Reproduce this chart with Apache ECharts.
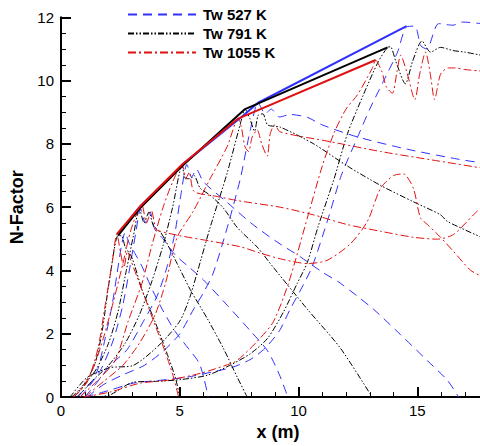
<!DOCTYPE html>
<html><head><meta charset="utf-8">
<script src="https://cdn.jsdelivr.net/npm/echarts@6/dist/echarts.min.js"></script>
<style>html,body{margin:0;padding:0;background:#fff;overflow:hidden}#c{width:536px;height:446px}</style>
</head><body><div id="c"></div>
<script>
// ---- data (x in m, N-factor) ----
const legendNames = ['Tw 527 K', 'Tw 791 K', 'Tw 1055 K'];

const blueEnv = [[2.4,5.15],[3.3,6.0],[5.2,7.4],[7.6,8.85],[8.3,9.3],[14.55,11.72]];
const blackEnv = [[2.4,5.1],[3.3,5.95],[5.1,7.3],[7.75,9.1],[13.75,11.05]];
const redEnv = [[2.35,5.15],[3.4,6.08],[5.1,7.35],[7.46,8.8],[13.25,10.65]];

const blueA = [[0.65,0],[1.0,0.25],[1.3,0.5],[1.56,0.9],[1.86,1.86],[2.15,2.9],[2.36,3.9],[2.55,4.8],[2.7,5.2],[2.85,4.9],[3.12,4.53],[3.41,4.13],[3.84,3.4],[4.26,2.78],[4.81,2.07],[5.35,1.55],[5.8,1.1],[6.0,0.65],[6.2,0]];
const blueB = [[0.8,0],[1.2,0.35],[1.7,0.9],[2.2,1.8],[2.6,2.9],[2.9,4.1],[3.15,5.2],[3.35,5.95],[3.55,5.5],[3.75,5.85],[3.95,5.3],[4.3,5.0],[4.8,4.5],[5.4,4.1],[6.0,3.7],[7.0,2.9],[8.0,2.07],[8.7,1.46],[9.2,0.7],[9.55,0]];
const blueC = [[1.0,0],[1.5,0.45],[2.07,1.0],[2.78,1.5],[3.46,2.38],[4.05,3.2],[4.47,4.13],[4.8,5.2],[5.05,6.4],[5.3,7.35],[5.5,6.95],[5.7,7.2],[6.0,6.8],[7.0,6.15],[8.0,5.5],[9.0,4.95],[10.08,4.43],[11.0,3.95],[11.76,3.6],[13.15,2.78],[14.3,1.97],[15.43,1.15],[16.27,0.53],[16.74,0]];
const blueD = [[1.1,0],[1.8,0.4],[2.6,0.7],[3.5,1.0],[4.3,1.45],[5.0,2.0],[5.6,2.8],[6.0,3.3],[6.41,3.92],[7.0,5.36],[7.55,6.9],[7.97,8.44],[8.3,9.3],[8.6,8.95],[8.85,9.1],[9.2,8.85],[9.65,8.93],[10.37,8.84],[11.0,8.6],[12.48,8.22],[14.59,7.83],[16.7,7.52],[17.7,7.4]];
const blueE = [[1.0,0],[2.07,0.22],[3.04,0.44],[4.17,0.53],[5.31,0.63],[6.41,0.8],[7.25,0.95],[8.0,1.2],[8.6,1.55],[9.2,2.1],[9.65,2.78],[10.1,3.4],[10.58,4.13],[11.26,5.67],[11.8,7.0],[12.48,8.2],[13.0,9.1],[13.57,9.97],[14.17,10.9],[14.55,11.7],[14.9,11.72],[15.15,11.1],[15.4,11.0],[15.9,11.8],[16.5,11.75],[16.9,11.85],[17.7,11.8]];

const blackA = [[0.45,0],[1.0,0.44],[1.43,1.06],[1.73,2.07],[1.98,3.4],[2.28,4.83],[2.4,5.1],[2.55,5.1],[2.7,4.75],[2.99,4.4],[3.41,3.4],[3.96,2.38],[4.38,1.55],[4.81,0.63],[5.0,0]];
const blackB = [[0.55,0],[1.0,0.4],[1.5,0.9],[2.0,1.7],[2.4,2.7],[2.75,4.0],[3.05,5.1],[3.3,5.95],[3.5,5.5],[3.7,5.85],[3.9,5.4],[4.2,5.2],[4.5,4.8],[4.89,4.22],[5.44,3.4],[6.16,2.48],[6.83,1.55],[7.42,0.63],[7.84,0]];
const blackC = [[0.7,0],[1.3,0.5],[2.0,1.0],[2.7,1.7],[3.3,2.6],[3.8,3.6],[4.3,4.8],[4.7,6.0],[5.1,7.3],[5.25,6.9],[5.44,6.9],[5.6,7.0],[5.86,6.6],[6.28,6.38],[6.83,5.98],[7.42,5.36],[8.26,4.74],[8.94,4.1],[10.37,2.78],[11.76,1.55],[13.1,0]];
const blackD = [[0.38,0],[1.1,0.62],[2.07,0.93],[3.04,1.0],[4.17,1.67],[5.0,2.4],[5.4,3.1],[5.73,3.92],[6.28,5.36],[7.0,7.09],[7.55,8.63],[7.75,9.1],[7.95,8.8],[8.15,8.4],[8.3,8.9],[8.5,8.95],[8.7,8.6],[9.23,8.53],[10.62,8.01],[12.06,7.3],[13.45,6.69],[14.84,6.17],[15.98,5.76],[16.27,5.55],[17.7,5.05]];
const blackE = [[1.5,0],[2.07,0.07],[3.04,0.47],[4.05,0.5],[5.0,0.55],[6.16,0.69],[7.1,1.0],[7.97,1.37],[8.7,1.86],[9.36,2.68],[9.95,3.6],[10.37,4.25],[10.83,5.4],[11.5,6.9],[12.06,8.32],[12.73,9.55],[13.36,10.6],[13.75,11.05],[13.87,11.07],[14.1,10.6],[14.5,9.9],[14.8,10.6],[15.2,11.25],[15.56,10.9],[15.98,11.05],[16.5,10.95],[17.0,10.9],[17.7,10.8]];

const redA = [[0.5,0],[0.75,0.15],[1.14,0.53],[1.56,1.55],[1.86,2.9],[2.15,4.22],[2.35,5.15],[2.5,4.6],[2.65,4.1],[2.8,4.6],[2.95,4.3],[3.2,3.8],[3.6,3.0],[4.0,2.2],[4.4,1.4],[4.75,0.6],[4.95,0]];
const redB = [[0.55,0],[1.0,0.4],[1.4,1.0],[1.8,1.9],[2.2,3.0],[2.6,4.2],[2.95,5.3],[3.4,6.08],[3.6,5.5],[3.8,5.9],[4.0,5.3],[4.17,5.24],[5.0,5.1],[6.28,4.93],[7.55,4.75],[8.39,4.55],[9.23,4.37],[10.37,4.22],[11.2,4.32],[12.18,4.84],[12.9,5.55],[13.45,6.59],[14.0,7.0],[14.42,7.05],[14.84,6.59],[15.13,5.67],[15.43,5.45],[15.98,5.05],[16.53,4.6],[17.24,4.01],[17.7,3.82]];
const redC = [[0.8,0],[1.5,0.5],[2.28,1.15],[2.82,2.38],[3.41,3.6],[3.84,4.83],[4.3,6.0],[4.7,6.8],[5.1,7.35],[5.25,6.9],[5.4,7.1],[5.6,6.5],[6.5,6.35],[7.5,6.2],[9.23,6.0],[10.62,5.76],[12.06,5.45],[13.45,5.24],[14.84,5.05],[15.85,4.99],[16.53,5.14],[17.37,5.76],[17.7,6.0]];
const redD = [[1.0,0],[1.8,0.5],[2.6,1.0],[3.3,1.7],[3.96,2.6],[4.4,3.6],[4.89,5.05],[5.56,5.86],[6.28,6.9],[7.0,7.92],[7.46,8.8],[7.6,8.5],[7.75,7.9],[7.9,7.76],[8.05,8.22],[8.26,8.44],[8.45,8.0],[8.68,7.61],[8.81,8.32],[9.0,8.6],[9.23,8.38],[11.34,8.07],[13.45,7.76],[15.56,7.5],[17.7,7.24]];
const redE = [[0.93,0],[2.07,0.16],[3.33,0.44],[4.47,0.53],[5.86,0.75],[7.25,1.09],[7.55,1.24],[8.26,1.76],[8.94,2.38],[9.6,3.65],[10.41,5.76],[11.0,7.3],[11.5,8.35],[12.0,9.1],[12.48,9.55],[13.1,10.38],[13.25,10.65],[13.5,10.3],[13.7,9.8],[13.95,9.6],[14.15,10.3],[14.3,10.8],[14.55,10.3],[14.9,9.4],[15.1,10.2],[15.35,10.9],[15.55,10.2],[15.73,9.4],[15.98,10.2],[16.3,10.4],[16.6,10.4],[17.0,10.35],[17.7,10.3]];

// ---- styling ----
const BLUE = '#3030ff', BLACK = '#000000', RED = '#e01010';
const dashBlue = [9, 6], dashBlack = [6, 2, 1.5, 2, 1.5, 2], dashRed = [8, 3, 2, 3];

function curve(name, data, color, dash) {
  return { name, type: 'line', data, showSymbol: false, symbol: 'none', smooth: 0.25,
    lineStyle: { color, width: 1, type: dash }, itemStyle: { color }, z: 2, silent: true, animation: false };
}
function env(name, data, color) {
  return { name, type: 'line', data, showSymbol: false, symbol: 'none', smooth: false,
    lineStyle: { color, width: 2, type: 'solid' }, itemStyle: { color }, z: 5, silent: true, animation: false };
}

const series = [
  curve(legendNames[0], blueA, BLUE, dashBlue),
  curve('b2', blueB, BLUE, dashBlue), curve('b3', blueC, BLUE, dashBlue),
  curve('b4', blueD, BLUE, dashBlue), curve('b5', blueE, BLUE, dashBlue),
  curve(legendNames[1], blackA, BLACK, dashBlack),
  curve('k2', blackB, BLACK, dashBlack), curve('k3', blackC, BLACK, dashBlack),
  curve('k4', blackD, BLACK, dashBlack), curve('k5', blackE, BLACK, dashBlack),
  curve(legendNames[2], redA, RED, dashRed),
  curve('r2', redB, RED, dashRed), curve('r3', redC, RED, dashRed),
  curve('r4', redD, RED, dashRed), curve('r5', redE, RED, dashRed),
  env('be', blueEnv, BLUE), env('ke', blackEnv, BLACK), env('re', redEnv, RED)
];

const FONT = 'Liberation Sans, Arial, Helvetica, sans-serif';
const chart = echarts.init(document.getElementById('c'), null, { renderer: 'svg' });
chart.setOption({
  animation: false,
  backgroundColor: '#fff',
  grid: { left: 61, top: 17.3, bottom: 38.7, right: 0, containLabel: false },
  legend: {
    data: legendNames, orient: 'vertical', left: 127, top: 7, itemWidth: 68, itemHeight: 14, itemGap: 4,
    padding: 0, selectedMode: false, itemStyle: { opacity: 0 },
    textStyle: { fontFamily: FONT, fontWeight: 'bold', fontSize: 15, color: '#000', padding: [0, 0, 0, 2] }
  },
  xAxis: {
    type: 'value', min: 0, max: 20, interval: 5,
    name: 'x (m)', nameLocation: 'middle', nameGap: 18,
    nameTextStyle: { fontFamily: FONT, fontWeight: 'bold', fontSize: 18, color: '#000', padding: [0, 41, 0, 0] },
    axisLine: { show: true, onZero: false, lineStyle: { color: '#000', width: 2 } },
    axisTick: { show: true, inside: true, length: 10, lineStyle: { color: '#000', width: 2 } },
    minorTick: { show: true, splitNumber: 5, length: 5, lineStyle: { color: '#000', width: 1 } },
    axisLabel: { fontFamily: FONT, fontSize: 15, color: '#000', margin: 6, showMaxLabel: false },
    splitLine: { show: false }
  },
  yAxis: {
    type: 'value', min: 0, max: 12, interval: 2,
    name: 'N-Factor', nameLocation: 'middle', nameGap: 28, nameRotate: 90,
    nameTextStyle: { fontFamily: FONT, fontWeight: 'bold', fontSize: 18, color: '#000' },
    axisLine: { show: true, onZero: false, lineStyle: { color: '#000', width: 2 } },
    axisTick: { show: true, inside: true, length: 10, lineStyle: { color: '#000', width: 2 } },
    minorTick: { show: true, splitNumber: 4, length: 5, lineStyle: { color: '#000', width: 1 } },
    axisLabel: { fontFamily: FONT, fontSize: 15, color: '#000', margin: 7 },
    splitLine: { show: false }
  },
  series
});
</script></body></html>
